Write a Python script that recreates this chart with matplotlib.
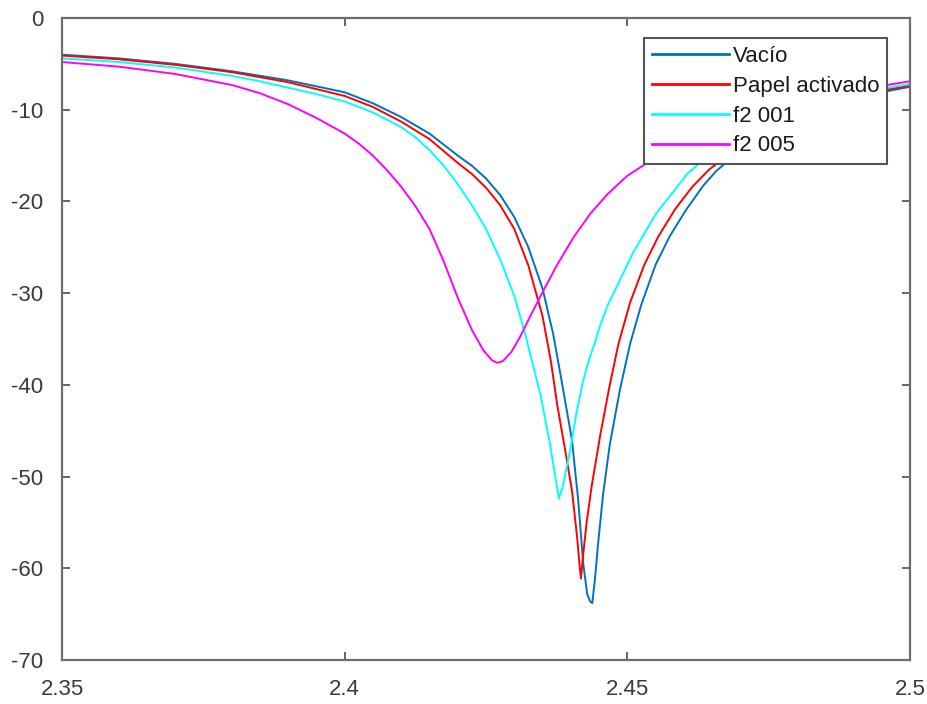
import matplotlib
matplotlib.use("Agg")
import matplotlib.pyplot as plt

# ---- data ----
x_vacio = [2.35, 2.36, 2.37, 2.38, 2.39, 2.40, 2.405, 2.41, 2.415, 2.42, 2.4225, 2.425, 2.4275,
           2.43, 2.4325, 2.435, 2.4369, 2.4385, 2.4402, 2.4413, 2.4422, 2.4429, 2.4434, 2.4438,
           2.4443, 2.4448, 2.4457, 2.4469, 2.4487, 2.4505, 2.4525, 2.455, 2.4575, 2.4603,
           2.4634, 2.4657, 2.47, 2.475, 2.48, 2.485, 2.49, 2.495, 2.5]
y_vacio = [-4.0, -4.4, -5.0, -5.8, -6.8, -8.1, -9.3, -10.8, -12.6, -15.0, -16.1, -17.5, -19.3,
           -21.7, -25.0, -29.5, -34.5, -40.0, -46.0, -52.5, -59.5, -62.8, -63.6, -63.8,
           -61.0, -57.5, -52.0, -46.5, -40.5, -35.5, -31.2, -26.9, -23.8, -21.0,
           -18.3, -16.7, -14.4, -12.4, -10.9, -9.7, -8.8, -8.1, -7.5]

x_papel = [2.35, 2.36, 2.37, 2.38, 2.39, 2.40, 2.405, 2.41, 2.415, 2.42, 2.4225, 2.425, 2.4275,
           2.43, 2.4325, 2.435, 2.4365, 2.4376, 2.439, 2.4402, 2.4411, 2.4416, 2.4418, 2.4421,
           2.4428, 2.4437, 2.4452, 2.4468, 2.4484, 2.4505, 2.453, 2.4555, 2.4585, 2.4615,
           2.4645, 2.47, 2.475, 2.48, 2.485, 2.49, 2.495, 2.5]
y_papel = [-4.1, -4.5, -5.1, -5.9, -7.0, -8.5, -9.7, -11.3, -13.2, -15.8, -17.0, -18.5, -20.4,
           -23.0, -27.0, -32.5, -37.5, -42.2, -47.1, -51.5, -56.5, -60.0, -61.1, -59.0,
           -55.0, -51.0, -45.5, -40.3, -35.6, -31.0, -26.9, -23.8, -20.8, -18.4,
           -16.5, -14.0, -12.1, -10.7, -9.5, -8.6, -7.9, -7.4]

x_f2001 = [2.35, 2.36, 2.37, 2.38, 2.385, 2.39, 2.395, 2.40, 2.405, 2.41, 2.4125, 2.415, 2.4175,
           2.42, 2.4225, 2.425, 2.4275, 2.43, 2.432, 2.4346, 2.4363, 2.4372, 2.4379, 2.4386,
           2.4399, 2.4409, 2.442, 2.4432, 2.4443, 2.4452, 2.4466, 2.4482, 2.451, 2.455, 2.4606,
           2.465, 2.47, 2.475, 2.48, 2.485, 2.49, 2.495, 2.5]
y_f2001 = [-4.4, -4.8, -5.4, -6.3, -6.9, -7.6, -8.3, -9.1, -10.3, -11.9, -13.0, -14.4, -16.1,
           -18.1, -20.4, -23.0, -26.3, -30.3, -34.6, -41.0, -46.4, -49.8, -52.4, -51.0,
           -47.1, -43.4, -40.0, -37.3, -35.3, -33.5, -31.2, -29.2, -25.6, -21.4, -17.0,
           -14.6, -12.7, -11.2, -10.0, -9.1, -8.3, -7.7, -7.2]

x_f2005 = [2.35, 2.36, 2.37, 2.38, 2.385, 2.39, 2.395, 2.40, 2.4025, 2.405, 2.4075, 2.41, 2.4125,
           2.415, 2.4175, 2.42, 2.4225, 2.4245, 2.426, 2.427, 2.428, 2.4295, 2.431, 2.433,
           2.435, 2.4375, 2.4405, 2.4435, 2.4465, 2.45, 2.455, 2.46, 2.465, 2.47, 2.475, 2.48,
           2.485, 2.49, 2.495, 2.5]
y_f2005 = [-4.8, -5.3, -6.1, -7.3, -8.2, -9.4, -10.9, -12.6, -13.7, -15.0, -16.6, -18.4, -20.5,
           -23.0, -26.5, -30.5, -34.0, -36.2, -37.3, -37.6, -37.4, -36.4, -34.8, -32.3,
           -29.9, -27.0, -23.9, -21.3, -19.2, -17.2, -15.2, -13.6, -12.3, -11.2, -10.2, -9.3,
           -8.6, -7.9, -7.4, -6.9]

series_labels = ["Vacío", "Papel activado", "f2 001", "f2 005"]
series_colors = ["#0072BD", "#FF0000", "#00FFFF", "#FF00FF"]

x_ticks = [2.35, 2.4, 2.45, 2.5]
x_tick_labels = ["2.35", "2.4", "2.45", "2.5"]
y_ticks = [0, -10, -20, -30, -40, -50, -60, -70]
y_tick_labels = ["0", "-10", "-20", "-30", "-40", "-50", "-60", "-70"]

# ---- plot ----
plt.rcParams['font.family'] = ['Liberation Sans', 'DejaVu Sans']
fig = plt.figure(figsize=(9.27, 7.04), dpi=100)
ax = fig.add_axes([62/927, 1 - 660/704, (910 - 62)/927, (660 - 18)/704])

for xs, ys, lab, col in zip([x_vacio, x_papel, x_f2001, x_f2005],
                            [y_vacio, y_papel, y_f2001, y_f2005],
                            series_labels, series_colors):
    ax.plot(xs, ys, color=col, lw=1.4, label=lab)

ax.set_xlim(2.35, 2.5)
ax.set_ylim(-70, 0)
ax.set_xticks(x_ticks)
ax.set_xticklabels(x_tick_labels)
ax.set_yticks(y_ticks)
ax.set_yticklabels(y_tick_labels)
ax.tick_params(direction='in', length=6, width=1.2, colors='#4d4d4d',
               labelcolor='#3a3a3a', labelsize=16, top=True, right=True)
ax.tick_params(axis='x', pad=14)
ax.tick_params(axis='y', pad=13.5)
for s in ax.spines.values():
    s.set_color('#6e6e6e')
    s.set_linewidth(1.6)

leg = ax.legend(loc='upper right', bbox_to_anchor=((887 - 62)/848, 1 - 20/642),
                bbox_transform=ax.transAxes, fontsize=16, frameon=True, fancybox=False,
                framealpha=1, edgecolor='#555555', handlelength=3.45, handletextpad=0.18,
                labelspacing=0.4, borderpad=0.35, borderaxespad=0.0)
leg.get_frame().set_linewidth(1.5)
for line in leg.get_lines():
    line.set_linewidth(2.0)
for t in leg.get_texts():
    t.set_color('#1a1a1a')

fig.savefig("out.png", dpi=100)
